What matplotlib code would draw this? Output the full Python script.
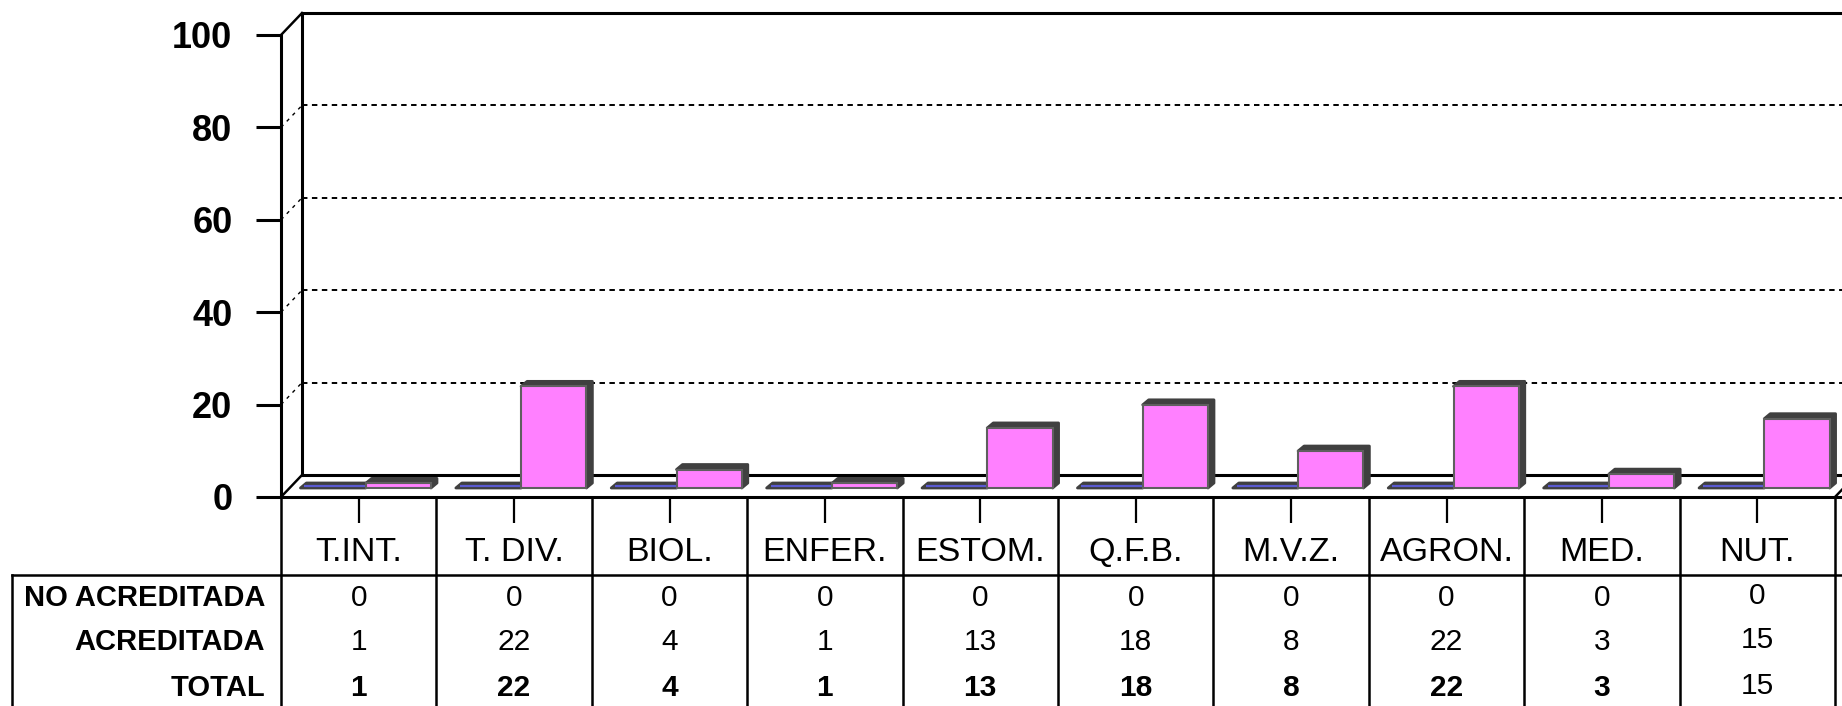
import numpy as np
import matplotlib
matplotlib.use("Agg")
import matplotlib.pyplot as plt
from matplotlib.patches import Rectangle, Polygon
from matplotlib.lines import Line2D
import matplotlib.transforms as mtransforms

plt.rcParams['font.family'] = ['Liberation Sans', 'DejaVu Sans']

# ---------------- data ----------------
categories = ['T.INT.', 'T. DIV.', 'BIOL.', 'ENFER.', 'ESTOM.', 'Q.F.B.',
              'M.V.Z.', 'AGRON.', 'MED.', 'NUT.']
no_acreditada = [0, 0, 0, 0, 0, 0, 0, 0, 0, 0]
acreditada = [1, 22, 4, 1, 13, 18, 8, 22, 3, 15]
total = [1, 22, 4, 1, 13, 18, 8, 22, 3, 15]
row_labels = ['NO ACREDITADA', 'ACREDITADA', 'TOTAL']
y_ticks = [0, 20, 40, 60, 80, 100]

# ---------------- style ----------------
W, H = 1842, 706
PINK = '#FF80FF'
BLUE = '#5A5AD0'
DARK = '#404040'
EDGE = '#5f5f5f'
LW_AX = 2.2
LW_TAB = 1.8
DASH = (0, (2.8, 2.3))

fig = plt.figure(figsize=(W / 100, H / 100), dpi=100)
ax = fig.add_axes([281 / W, 209 / H, (1835 - 281) / W, 462 / H])
ax.set_xlim(0, len(categories))
ax.set_ylim(0, 100)
for s in ax.spines.values():
    s.set_visible(False)


def px2data(dxp, dyp):
    inv = ax.transData.inverted()
    o = ax.transData.transform((0, 0))
    p = inv.transform(o + np.array([dxp, dyp]))
    return p[0], p[1]


# depth offsets (pixels -> data units)
bdx, bdy = px2data(21, 22)     # back wall
fdx, fdy = px2data(7, 9)       # bar front face position
ddx, ddy = px2data(6, 5)       # bar depth

n = len(categories)
xmax = n

# back wall
ax.plot([bdx, bdx], [bdy, 100 + bdy], color='black', lw=LW_AX, clip_on=False, zorder=2)
ax.plot([bdx, xmax + bdx + 1], [100 + bdy, 100 + bdy], color='black', lw=LW_AX, clip_on=False, zorder=2)
ax.plot([bdx, xmax + bdx + 1], [bdy, bdy], color='black', lw=LW_AX, clip_on=False, zorder=2)
for v in y_ticks[1:-1]:
    ax.plot([bdx, xmax + bdx + 1], [v + bdy, v + bdy], color='black', lw=1.4,
            ls=DASH, clip_on=False, zorder=1)
    ax.plot([0, bdx], [v, v + bdy], color='black', lw=1.0, ls=(0, (2.5, 3.5)),
            clip_on=False, zorder=1)
# diagonals
for v in [0, 100]:
    ax.plot([0, bdx], [v, v + bdy], color='black', lw=LW_AX * 0.8, clip_on=False, zorder=2)
ax.plot([xmax, xmax + bdx], [0, bdy], color='black', lw=LW_AX * 0.8, clip_on=False, zorder=2)

# front axes
ax.plot([0, 0], [0, 100], color='black', lw=LW_AX, clip_on=False, zorder=6)
ax.plot([0, xmax + 1], [0, 0], color='black', lw=LW_AX, clip_on=False, zorder=6)

# bars
bw = 0.42


def draw_bar(x0, v, color, z):
    x1 = x0 + bw
    b = fdy
    xa, xb = x0 + fdx, x1 + fdx
    top = b + v
    cap = Polygon([(xa, top), (xa + ddx, top + ddy), (xb + ddx, top + ddy),
                   (xb + ddx, b + ddy), (xb, b), (xb, top)],
                  closed=True, facecolor=DARK, edgecolor=DARK, lw=2.0,
                  joinstyle='round', clip_on=False, zorder=z)
    ax.add_patch(cap)
    if v > 0:
        ax.add_patch(Rectangle((xa, b), bw, v, facecolor=color, edgecolor=EDGE,
                               lw=1.5, clip_on=False, zorder=z + 0.1))
    else:
        ax.plot([xa + 0.025, xb], [b + ddy * 0.4, b + ddy * 0.4], color=color,
                lw=1.6, clip_on=False, zorder=z + 0.1, solid_capstyle='butt')


for i in range(n):
    c = i + 0.5
    draw_bar(c - bw, no_acreditada[i], BLUE, 3 + i * 0.01)
    draw_bar(c, acreditada[i], PINK, 3.5 + i * 0.01)

# y axis ticks
ax.set_yticks(y_ticks)
ax.set_yticklabels([str(t) for t in y_ticks], fontsize=26, fontweight='bold')
ax.tick_params(axis='y', direction='out', length=18, width=LW_AX, pad=17)

# x ticks / category labels
ax.set_xticks([i + 0.5 for i in range(n)])
ax.set_xticklabels(categories, fontsize=24.5)
ax.tick_params(axis='x', direction='out', length=18.5, width=1.6, pad=10.5)

# ---------------- table ----------------
tx = mtransforms.blended_transform_factory(ax.transData, fig.transFigure)
y_floor = 1 - 497 / H
y_hline = 1 - 575 / H
for k in range(0, n + 1):
    ax.plot([k, k], [y_floor, 0], transform=tx, color='black', lw=LW_TAB,
            clip_on=False, zorder=6)
fig.add_artist(Line2D([12 / W, 1], [y_hline, y_hline], color='black', lw=LW_TAB))
fig.add_artist(Line2D([12 / W, 12 / W], [y_hline, 0], color='black', lw=LW_TAB))

row_y = [1 - 598 / H, 1 - 642 / H, 1 - 688 / H]
for lbl, yy in zip(row_labels, row_y):
    fig.text(265 / W, yy, lbl, ha='right', va='center', fontsize=21, fontweight='bold')

rows = [no_acreditada, acreditada, total]
total_bold = [True] * 9 + [False]
for r, (vals, yy) in enumerate(zip(rows, row_y)):
    for i, v in enumerate(vals):
        bold = (r == 2 and total_bold[i])
        dy = 2 / H if i == n - 1 else 0
        ax.text(i + 0.5, yy + dy, str(v), transform=tx, ha='center', va='center',
                fontsize=21.5, fontweight='bold' if bold else 'normal', clip_on=False)

fig.savefig('out.png', dpi=100)
